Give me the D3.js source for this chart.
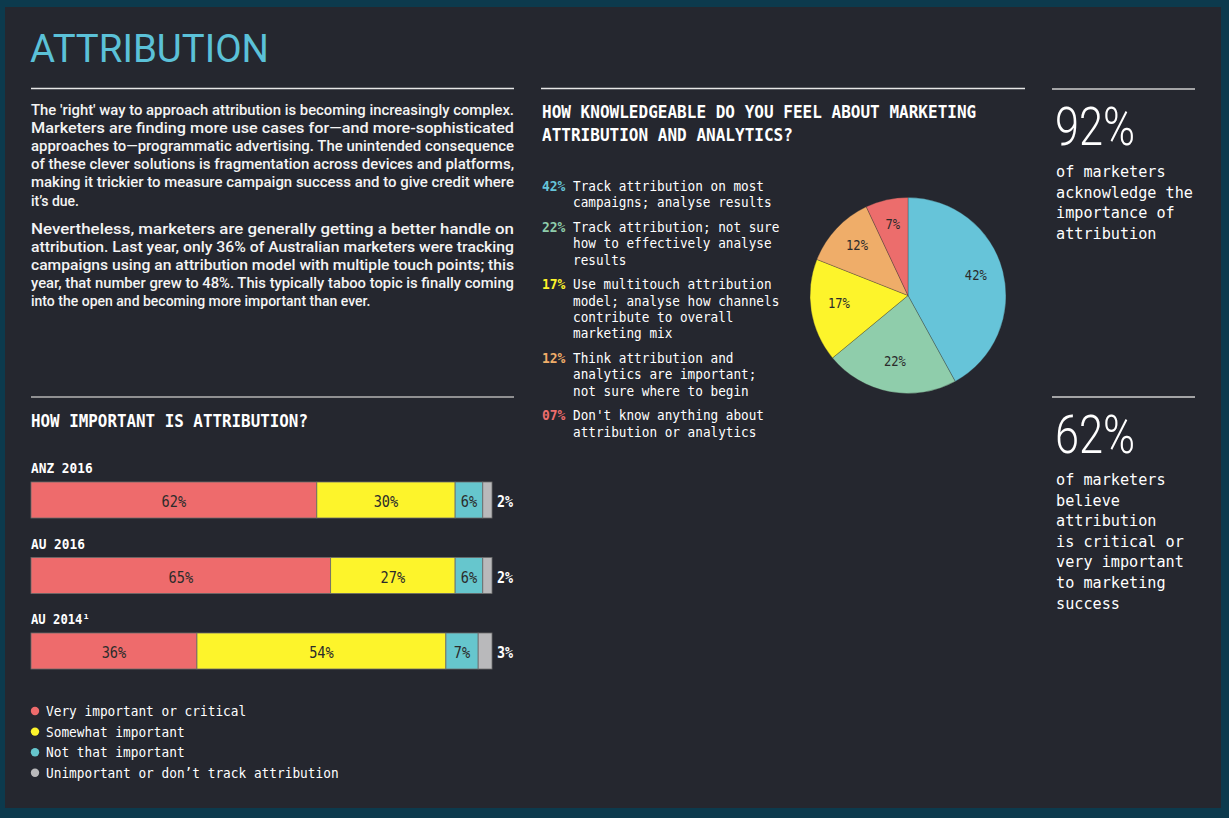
<!DOCTYPE html>
<html><head><meta charset="utf-8">
<script src="https://cdn.jsdelivr.net/npm/d3@7"></script>
<style>body{margin:0;background:#0c3a4d;overflow:hidden}</style>
</head><body><svg id="c" width="1229" height="818"></svg>
<script>
// ---------- DATA ----------
const titleText = "ATTRIBUTION";
const para1 = [
  "The 'right' way to approach attribution is becoming increasingly complex.",
  "Marketers are finding more use cases for\u2014and more-sophisticated",
  "approaches to\u2014programmatic advertising. The unintended consequence",
  "of these clever solutions is fragmentation across devices and platforms,",
  "making it trickier to measure campaign success and to give credit where",
  "it\u2019s due."
];
const para2 = [
  "Nevertheless, marketers are generally getting a better handle on",
  "attribution. Last year, only 36% of Australian marketers were tracking",
  "campaigns using an attribution model with multiple touch points; this",
  "year, that number grew to 48%. This typically taboo topic is finally coming",
  "into the open and becoming more important than ever."
];
const barTitle = "HOW IMPORTANT IS ATTRIBUTION?";
const barCategories = ["ANZ 2016", "AU 2016", "AU 2014"];
const barFootnote = ["", "", "\u00b9"];
const seriesNames = ["Very important or critical", "Somewhat important", "Not that important", "Unimportant or don\u2019t track attribution"];
const veryImportant = [62, 65, 36];
const somewhatImportant = [30, 27, 54];
const notThatImportant = [6, 6, 7];
const unimportant = [2, 2, 3];

const pieTitle = ["HOW KNOWLEDGEABLE DO YOU FEEL ABOUT MARKETING", "ATTRIBUTION AND ANALYTICS?"];
const pieValues = [42, 22, 17, 12, 7];
const pieTags = ["42%", "22%", "17%", "12%", "07%"];
const pieLabels = [
  ["Track attribution on most", "campaigns; analyse results"],
  ["Track attribution; not sure", "how to effectively analyse", "results"],
  ["Use multitouch attribution", "model; analyse how channels", "contribute to overall", "marketing mix"],
  ["Think attribution and", "analytics are important;", "not sure where to begin"],
  ["Don't know anything about", "attribution or analytics"]
];

const statValues = ["92%", "62%"];
const statTexts = [
  ["of marketers", "acknowledge the", "importance of", "attribution"],
  ["of marketers", "believe", "attribution", "is critical or", "very important", "to marketing", "success"]
];

// ---------- STYLE ----------
const barColors = ["#ee6b6c", "#fdf42b", "#66c6cd", "#b9b9bb"];
const pieColors = ["#66c4d9", "#8fcdab", "#fdf42b", "#efad69", "#ec6d6c"];
const MONO = "'DejaVu Sans Mono', 'Liberation Mono', monospace";
const SANS = "Roboto, 'Open Sans', Lato, sans-serif";

const svg = d3.select("#c");
svg.append("rect").attr("x", 5).attr("y", 7).attr("width", 1216).attr("height", 801).attr("fill", "#25272f");

function mono(sel, size, charW, weight) {
  sel.attr("font-family", MONO).attr("font-size", size).attr("font-weight", weight || 400)
    .each(function () {
      const t = d3.select(this).text();
      d3.select(this).attr("textLength", t.length * charW).attr("lengthAdjust", "spacingAndGlyphs");
    });
  return sel;
}
function hline(x1, x2, y, col, w) {
  svg.append("line").attr("x1", x1).attr("x2", x2).attr("y1", y).attr("y2", y)
    .attr("stroke", col).attr("stroke-width", w);
}

// ---------- TITLE + PARAGRAPHS ----------
svg.append("text").attr("x", 30).attr("y", 62).text(titleText)
  .attr("font-family", SANS).attr("font-size", 38).attr("fill", "#5bc1d8")
  .attr("textLength", 239).attr("lengthAdjust", "spacingAndGlyphs");
hline(31, 514, 88.5, "#e6e6e6", 1.3);

function paragraph(lines, y0) {
  lines.forEach((l, i) => {
    const t = svg.append("text").attr("x", 31).attr("y", y0 + i * 18.2).text(l)
      .attr("font-family", SANS).attr("font-size", 14).attr("font-weight", 500).attr("fill", "#f4f4f4");
    if (i < lines.length - 1) t.attr("textLength", 483).attr("lengthAdjust", "spacingAndGlyphs");
  });
}
paragraph(para1, 114.5);
paragraph(para2, 233.5);

// ---------- BAR CHART ----------
hline(31, 514, 397, "#b4b4b4", 1.4);
mono(svg.append("text").attr("x", 31).attr("y", 427).text(barTitle).attr("fill", "#fff"), 17, 9.55, 700);

const series = [veryImportant, somewhatImportant, notThatImportant, unimportant];
const x = d3.scaleLinear().domain([0, 100]).range([31, 492]);
const y = d3.scalePoint().domain(barCategories).range([482, 633]);
const barH = 36;

barCategories.forEach((cat, ci) => {
  const top = y(cat);
  const label = cat + barFootnote[ci];
  mono(svg.append("text").attr("x", 31).attr("y", top - 9).text(label).attr("fill", "#fff"),
    14.5, barFootnote[ci] ? 7.35 : 7.7, 700);
  let acc = 0;
  series.forEach((s, si) => {
    const v = s[ci];
    const x0 = x(acc), x1 = x(acc + v);
    svg.append("rect").attr("x", x0).attr("y", top).attr("width", x1 - x0).attr("height", barH)
      .attr("fill", barColors[si]).attr("stroke", "#6b6b6b").attr("stroke-width", 0.8);
    if (si < 3) {
      mono(svg.append("text").attr("x", (x0 + x1) / 2).attr("y", top + 25).attr("text-anchor", "middle")
        .text(v + "%").attr("fill", "#2b2b2b"), 15, 8.2);
    } else {
      mono(svg.append("text").attr("x", 497).attr("y", top + 25).text(v + "%").attr("fill", "#fff"), 15, 8, 700);
    }
    acc += v;
  });
});

// legend
seriesNames.forEach((n, i) => {
  const yy = 711 + i * 20.6;
  svg.append("circle").attr("cx", 35).attr("cy", yy).attr("r", 4.2).attr("fill", barColors[i]);
  mono(svg.append("text").attr("x", 46).attr("y", yy + 5).text(n).attr("fill", "#fff"), 14, 7.7);
});

// ---------- PIE SECTION ----------
hline(541, 1025, 88.5, "#e6e6e6", 1.3);
pieTitle.forEach((l, i) => {
  mono(svg.append("text").attr("x", 542).attr("y", 118 + i * 23).text(l).attr("fill", "#fff"), 17, 9.65, 700);
});

let ly = 191;
pieLabels.forEach((lines, i) => {
  mono(svg.append("text").attr("x", 542).attr("y", ly).text(pieTags[i]).attr("fill", pieColors[i]), 14.5, 7.8, 700);
  lines.forEach((l, j) => {
    mono(svg.append("text").attr("x", 573).attr("y", ly + j * 16.3).text(l).attr("fill", "#fff"), 14.5, 7.64);
  });
  ly += (lines.length - 1) * 16.3 + 24.7;
});

const cx = 908, cy = 295.5, R = 98;
const pie = d3.pie().sort(null).value(d => d)(pieValues);
const arc = d3.arc().innerRadius(0).outerRadius(R);
const labArc = d3.arc().innerRadius(70).outerRadius(70);
const pg = svg.append("g").attr("transform", `translate(${cx},${cy})`);
pg.selectAll("path").data(pie).join("path").attr("d", arc)
  .attr("fill", (d, i) => pieColors[i]).attr("stroke", "rgba(50,50,50,0.45)").attr("stroke-width", 0.7);
pg.selectAll("text").data(pie).join("text")
  .attr("x", d => labArc.centroid(d)[0]).attr("y", d => labArc.centroid(d)[1] + 2)
  .attr("text-anchor", "middle").attr("fill", "#2b2b2b")
  .text(d => d.data + "%")
  .call(s => mono(s, 13.5, 7.3));

// ---------- STATS ----------
const statTops = [89, 397];
statValues.forEach((v, i) => {
  const t0 = statTops[i];
  hline(1052, 1195, t0, "#cfcfcf", 1.3);
  svg.append("text").attr("x", 1055).attr("y", t0 + 56).text(v)
    .attr("font-family", SANS).attr("font-weight", 300).attr("font-size", 54).attr("fill", "#fff")
    .attr("textLength", 80).attr("lengthAdjust", "spacingAndGlyphs");
  statTexts[i].forEach((l, j) => {
    mono(svg.append("text").attr("x", 1056).attr("y", t0 + 88 + j * 20.6).text(l).attr("fill", "#fff"), 15, 9.13);
  });
});
</script></body></html>
